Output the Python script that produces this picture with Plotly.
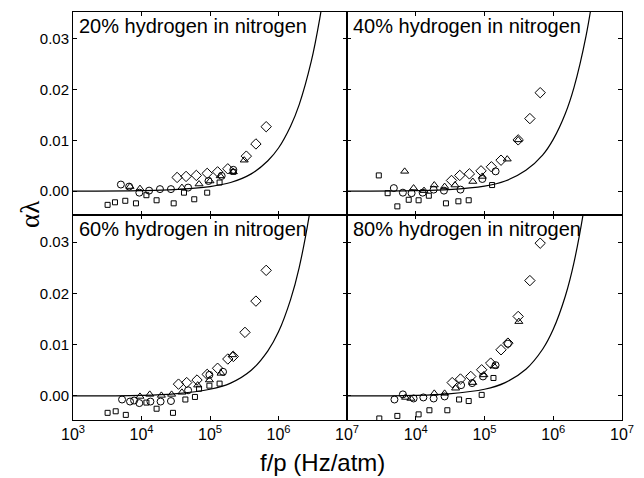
import plotly.graph_objects as go

# ---------------- data ----------------
panel_titles = ["20% hydrogen in nitrogen", "40% hydrogen in nitrogen",
                "60% hydrogen in nitrogen", "80% hydrogen in nitrogen"]

curve_f = [1e3, 1e4, 3e4, 1e5, 2e5, 4e5, 7e5, 1e6, 1.5e6, 2e6, 3e6, 4e6, 5e6]
curve_20 = [0, 0.0001, 0.0003, 0.0009, 0.0017, 0.0034, 0.0060, 0.0085, 0.0128, 0.0170, 0.0255, 0.0340, 0.0425]
curve_40 = [0, 0.0001, 0.0003, 0.0010, 0.0020, 0.0041, 0.0071, 0.0102, 0.0153, 0.0204, 0.0306, 0.0408, 0.0510]
curve_60 = [0, 0.0001, 0.0004, 0.0013, 0.0025, 0.0050, 0.0088, 0.0125, 0.0188, 0.0250, 0.0375, 0.0500, 0.0625]
curve_80 = [0, 0.0001, 0.0004, 0.0013, 0.0026, 0.0052, 0.0091, 0.0130, 0.0195, 0.0260, 0.0390, 0.0520, 0.0650]

# 20 %
sq20_f = [3.2e3, 4.1e3, 5.8e3, 8.3e3, 1.18e4, 1.66e4, 2.95e4, 4.17e4, 5.89e4, 9.1e4, 1.38e5, 2.19e5]
sq20_y = [-0.0027, -0.0022, -0.0019, -0.0024, -0.0008, -0.0018, -0.0024, -0.0003, -0.0016, -0.0003, 0.0017, 0.0038]
ci20_f = [5.0e3, 6.6e3, 9.3e3, 1.29e4, 1.86e4, 2.69e4, 4.79e4, 9.5e4, 1.48e5, 2.19e5]
ci20_y = [0.0013, 0.0009, -0.0003, 0.0001, 0.0004, 0.0004, 0.0007, 0.0020, 0.0030, 0.0042]
tr20_f = [6.8e3, 9.5e3, 3.89e4, 6.92e4, 1.0e5, 1.41e5, 2.19e5, 3.16e5]
tr20_y = [0.0009, 0.0005, 0.0007, 0.0014, 0.0020, 0.0030, 0.0038, 0.0061]
di20_f = [3.31e4, 4.47e4, 6.31e4, 9.1e4, 1.29e5, 1.82e5, 3.39e5, 4.68e5, 6.61e5]
di20_y = [0.0027, 0.0029, 0.0031, 0.0035, 0.0038, 0.0044, 0.0069, 0.0093, 0.0127]

# 40 %
sq40_f = [2.9e3, 3.9e3, 5.4e3, 7.9e3, 1.1e4, 1.55e4, 2.75e4, 4.17e4, 5.89e4, 1.29e5]
sq40_y = [0.0031, -0.0004, -0.0030, -0.0017, -0.0018, -0.0009, -0.0024, -0.0020, -0.0018, 0.0012]
ci40_f = [4.8e3, 6.5e3, 8.7e3, 1.26e4, 1.82e4, 2.57e4, 4.47e4, 9.3e4, 1.45e5]
ci40_y = [0.0006, -0.0003, -0.0004, -0.0003, 0.0003, 0.0001, 0.0003, 0.0024, 0.0039]
tr40_f = [6.9e3, 9.3e3, 1.32e4, 1.86e4, 2.63e4, 3.72e4, 6.76e4, 9.3e4, 2.14e5, 3.09e5]
tr40_y = [0.0039, 0.0006, 0.0001, 0.0012, 0.0009, 0.0012, 0.0019, 0.0029, 0.0063, 0.0101]
di40_f = [3.31e4, 4.37e4, 6.03e4, 8.9e4, 1.26e5, 1.74e5, 3.09e5, 4.57e5, 6.46e5]
di40_y = [0.0021, 0.0031, 0.0034, 0.0040, 0.0048, 0.0061, 0.0101, 0.0143, 0.0194]

# 60 %
sq60_f = [3.2e3, 4.2e3, 5.9e3, 1.18e4, 1.66e4, 2.88e4, 4.37e4, 6.03e4, 6.92e4, 9.8e4, 1.38e5]
sq60_y = [-0.0033, -0.0030, -0.0037, -0.0013, -0.0025, -0.0033, -0.0007, -0.0002, 0.0014, 0.0020, 0.0024]
ci60_f = [5.2e3, 6.8e3, 7.8e3, 9.3e3, 1.35e4, 1.9e4, 2.69e4, 4.79e4, 9.8e4, 1.55e5]
ci60_y = [-0.0007, -0.0011, -0.0009, -0.0014, -0.0011, -0.0011, -0.0010, 0.0011, 0.0041, 0.0047]
tr60_f = [9.5e3, 1.32e4, 1.95e4, 2.75e4, 3.89e4, 6.61e4, 9.8e4, 1.45e5, 2.14e5]
tr60_y = [-0.0001, 0.0003, 0.0001, 0.0003, 0.0007, 0.0021, 0.0031, 0.0044, 0.0080]
di60_f = [3.47e4, 4.57e4, 6.46e4, 9.1e4, 1.29e5, 1.82e5, 2.19e5, 3.24e5, 4.68e5, 6.61e5]
di60_y = [0.0023, 0.0026, 0.0031, 0.0042, 0.0054, 0.0072, 0.0077, 0.0124, 0.0185, 0.0245]

# 80 %
sq80_f = [2.95e3, 5.4e3, 1.1e4, 1.58e4, 2.88e4, 4.27e4, 5.89e4, 9.1e4, 1.35e5]
sq80_y = [-0.0044, -0.0039, -0.0036, -0.0028, -0.0028, -0.0007, -0.0010, 0.0002, 0.0035]
ci80_f = [4.9e3, 6.5e3, 9.3e3, 1.29e4, 1.82e4, 2.63e4, 4.57e4, 6.61e4, 9.5e4, 1.45e5, 2.19e5]
ci80_y = [-0.0007, 0.0003, -0.0005, -0.0003, -0.0005, -0.0001, 0.0021, 0.0025, 0.0038, 0.0060, 0.0102]
tr80_f = [7.1e3, 8.5e3, 1.86e4, 2.63e4, 3.8e4, 6.76e4, 9.8e4, 1.38e5, 3.16e5]
tr80_y = [-0.0003, -0.0005, 0.0005, 0.0005, 0.0015, 0.0026, 0.0041, 0.0058, 0.0145]
di80_f = [3.39e4, 4.47e4, 6.31e4, 9.1e4, 1.23e5, 1.74e5, 2.19e5, 3.09e5, 4.57e5, 6.46e5]
di80_y = [0.0026, 0.0033, 0.0038, 0.0051, 0.0064, 0.0090, 0.0103, 0.0155, 0.0225, 0.0298]

x_left_ticks = [1e3, 1e4, 1e5, 1e6, 1e7]
x_left_text = ["10<sup>3</sup>", "10<sup>4</sup>", "10<sup>5</sup>", "10<sup>6</sup>", "10<sup>7</sup>"]
x_right_ticks = [1e4, 1e5, 1e6, 1e7]
x_right_text = ["10<sup>4</sup>", "10<sup>5</sup>", "10<sup>6</sup>", "10<sup>7</sup>"]
y_ticks = [0.0, 0.01, 0.02, 0.03]

# ---------------- figure ----------------
panels = [
    (curve_20, sq20_f, sq20_y, ci20_f, ci20_y, tr20_f, tr20_y, di20_f, di20_y),
    (curve_40, sq40_f, sq40_y, ci40_f, ci40_y, tr40_f, tr40_y, di40_f, di40_y),
    (curve_60, sq60_f, sq60_y, ci60_f, ci60_y, tr60_f, tr60_y, di60_f, di60_y),
    (curve_80, sq80_f, sq80_y, ci80_f, ci80_y, tr80_f, tr80_y, di80_f, di80_y),
]

OFF = 8  # page body margin
W, H = 644 - OFF, 478 - OFF
ml, mr, mt, mb = 73 - OFF, 22, 12 - OFF, 58
pw = W - ml - mr
ph = H - mt - mb
xsplit = 274 / pw
ysplit = 205 / ph

fig = go.Figure()
axis_ids = [("x", "y"), ("x2", "y2"), ("x3", "y3"), ("x4", "y4")]

for i, (cv, sf, sy, cf, cy, tf, ty, df, dy) in enumerate(panels):
    xa, ya = axis_ids[i]
    fig.add_trace(go.Scatter(x=curve_f, y=cv, mode="lines", line=dict(color="black", width=1.2, shape="spline"),
                             xaxis=xa, yaxis=ya, showlegend=False, hoverinfo="skip"))
    mk = dict(color="black", line=dict(color="black", width=1))
    fig.add_trace(go.Scatter(x=sf, y=sy, mode="markers", xaxis=xa, yaxis=ya, showlegend=False,
                             marker=dict(symbol="square-open", size=5, **mk)))
    fig.add_trace(go.Scatter(x=cf, y=cy, mode="markers", xaxis=xa, yaxis=ya, showlegend=False,
                             marker=dict(symbol="circle-open", size=7, **mk)))
    fig.add_trace(go.Scatter(x=tf, y=ty, mode="markers", xaxis=xa, yaxis=ya, showlegend=False,
                             marker=dict(symbol="triangle-up-open", size=7, **mk)))
    fig.add_trace(go.Scatter(x=df, y=dy, mode="markers", xaxis=xa, yaxis=ya, showlegend=False,
                             marker=dict(symbol="diamond-open", size=8, **mk)))

common_x = dict(type="log", range=[3, 7], showline=True, linecolor="black", linewidth=1, mirror="ticks",
                ticks="inside", ticklen=4, tickcolor="black", showgrid=False, zeroline=False,
                tickfont=dict(family="Liberation Sans, Arial", size=16, color="black"))
common_y = dict(range=[-0.0047, 0.0353], showline=True, linecolor="black", linewidth=1, mirror="ticks",
                ticks="inside", ticklen=4, tickcolor="black", showgrid=False, zeroline=False,
                tickvals=y_ticks, tickformat=".2f",
                tickfont=dict(family="Liberation Sans, Arial", size=15, color="black"))

doms_x = [[0, xsplit], [xsplit, 1], [0, xsplit], [xsplit, 1]]
doms_y = [[ysplit, 1], [ysplit, 1], [0, ysplit], [0, ysplit]]
for i in range(4):
    xk = "xaxis" if i == 0 else f"xaxis{i+1}"
    yk = "yaxis" if i == 0 else f"yaxis{i+1}"
    ax = dict(common_x, domain=doms_x[i], anchor="y" if i == 0 else f"y{i+1}")
    if i in (0, 2):
        ax.update(tickvals=x_left_ticks, ticktext=x_left_text)
    else:
        ax.update(tickvals=x_right_ticks, ticktext=x_right_text)
    if i < 2:
        ax.update(showticklabels=False)
    ay = dict(common_y, domain=doms_y[i], anchor="x" if i == 0 else f"x{i+1}")
    if i in (1, 3):
        ay.update(showticklabels=False)
    fig.layout[xk] = ax
    fig.layout[yk] = ay

# panel titles
for i, t in enumerate(panel_titles):
    x0 = doms_x[i][0]
    y1 = doms_y[i][1]
    fig.add_annotation(text=t, xref="paper", yref="paper", x=x0 + 4 / pw, y=y1 - 1 / ph,
                       xanchor="left", yanchor="top", showarrow=False,
                       font=dict(family="Liberation Sans, Arial", size=20, color="black"))

# page coordinates -> paper coordinates
def px_x(x):
    return (x - OFF - ml) / pw

def px_y(y):
    return (H - mb - (y - OFF)) / ph

fig.add_annotation(text="f/p (Hz/atm)", xref="paper", yref="paper", x=px_x(322), y=px_y(462),
                   xanchor="center", yanchor="middle", showarrow=False,
                   font=dict(family="Liberation Sans, Arial", size=24, color="black"))
fig.add_annotation(text="αλ", xref="paper", yref="paper", x=px_x(30), y=px_y(215),
                   xanchor="center", yanchor="middle", showarrow=False, textangle=-90,
                   font=dict(family="Liberation Serif, Times New Roman", size=27, color="black"))

fig.update_layout(width=W, height=H, margin=dict(l=ml, r=mr, t=mt, b=mb),
                  paper_bgcolor="white", plot_bgcolor="white")

fig.write_html("out.html")
